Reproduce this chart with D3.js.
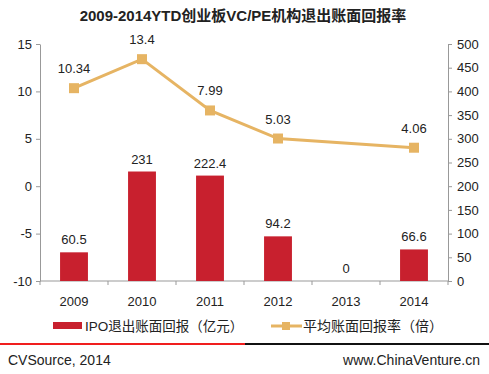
<!DOCTYPE html>
<html>
<head>
<meta charset="utf-8">
<script src="https://cdn.jsdelivr.net/npm/d3@7"></script>
<style>
  body { margin: 0; background: #fff; }
  svg text { font-family: "Liberation Sans", Arial, "Noto Sans CJK SC", sans-serif; fill: #222; }
</style>
</head>
<body>
<div class="graph"></div>
<script>
const years = ['2009', '2010', '2011', '2012', '2013', '2014'];
const ipoReturn = [60.5, 231, 222.4, 94.2, 0, 66.6];          // 亿元, right axis
const avgRate = [10.34, 13.4, 7.99, 5.03, null, 4.06];       // 倍, left axis
const leftTicks = [-10, -5, 0, 5, 10, 15];
const rightTicks = [0, 50, 100, 150, 200, 250, 300, 350, 400, 450, 500];

const width = 489;
const height = 374;
const barColor = '#c8202e';
const lineColor = '#e6b463';

const svg = d3.select('.graph').append('svg')
  .attr('width', width)
  .attr('height', height);

const plotLeft = 40, plotRight = 448, plotTop = 44, plotBottom = 281;

const x = d3.scaleBand().domain(years).range([plotLeft, plotRight]).paddingInner(0).paddingOuter(0);
const yL = d3.scaleLinear().domain([-10, 15]).range([plotBottom, plotTop]);
const yR = d3.scaleLinear().domain([0, 500]).range([plotBottom, plotTop]);

// title
svg.append('text')
  .attr('x', 243).attr('y', 21)
  .attr('text-anchor', 'middle')
  .style('font-size', '15px')
  .style('font-weight', 'bold')
  .text('2009-2014YTD创业板VC/PE机构退出账面回报率');

// axes
const axisStyle = g => {
  g.select('.domain').attr('stroke', '#999');
  g.selectAll('.tick line').attr('stroke', '#999');
  g.selectAll('.tick text').style('font-size', '13px').attr('fill', '#222');
};

svg.append('g')
  .attr('transform', `translate(${plotLeft},0)`)
  .call(d3.axisLeft(yL).tickValues(leftTicks).tickFormat(d => String(d))
    .tickSize(4).tickSizeOuter(0).tickPadding(4))
  .call(axisStyle);

svg.append('g')
  .attr('transform', `translate(${plotRight},0)`)
  .call(d3.axisRight(yR).tickValues(rightTicks).tickSize(4).tickSizeOuter(0).tickPadding(5))
  .call(axisStyle);

// x axis: line plus ticks on band boundaries
const xg = svg.append('g').attr('transform', `translate(0,${plotBottom})`);
xg.append('line').attr('x1', plotLeft).attr('x2', plotRight).attr('stroke', '#999');
xg.selectAll('.bt')
  .data(years.concat(['end']))
  .enter().append('line')
  .attr('x1', (d, i) => plotLeft + i * x.step())
  .attr('x2', (d, i) => plotLeft + i * x.step())
  .attr('y1', 0).attr('y2', 4)
  .attr('stroke', '#999');
xg.selectAll('.yl')
  .data(years)
  .enter().append('text')
  .attr('x', d => x(d) + x.bandwidth() / 2)
  .attr('y', 25)
  .attr('text-anchor', 'middle')
  .style('font-size', '13px')
  .text(d => d);

// bars
const barW = x.bandwidth() * 0.41;
svg.selectAll('.bar')
  .data(ipoReturn)
  .enter().append('rect')
  .attr('x', (d, i) => x(years[i]) + (x.bandwidth() - barW) / 2)
  .attr('y', d => yR(d))
  .attr('width', barW)
  .attr('height', d => plotBottom - yR(d))
  .attr('fill', barColor);

svg.selectAll('.barlabel')
  .data(ipoReturn)
  .enter().append('text')
  .attr('x', (d, i) => x(years[i]) + x.bandwidth() / 2)
  .attr('y', d => yR(d) - 8)
  .attr('text-anchor', 'middle')
  .style('font-size', '13px')
  .text(d => d);

// line (gap at 2013 spanned)
const pts = avgRate.map((v, i) => ({ year: years[i], v })).filter(d => d.v !== null);
const line = d3.line()
  .x(d => x(d.year) + x.bandwidth() / 2)
  .y(d => yL(d.v));

svg.append('path')
  .datum(pts)
  .attr('d', line)
  .attr('fill', 'none')
  .attr('stroke', lineColor)
  .attr('stroke-width', 3);

svg.selectAll('.marker')
  .data(pts)
  .enter().append('rect')
  .attr('x', d => x(d.year) + x.bandwidth() / 2 - 5)
  .attr('y', d => yL(d.v) - 5)
  .attr('width', 10).attr('height', 10)
  .attr('fill', lineColor);

svg.selectAll('.linelabel')
  .data(pts)
  .enter().append('text')
  .attr('x', d => x(d.year) + x.bandwidth() / 2)
  .attr('y', d => yL(d.v) - 15)
  .attr('text-anchor', 'middle')
  .style('font-size', '13px')
  .text(d => d.v);

// legend
const lg = svg.append('g').attr('transform', 'translate(0,326)');
lg.append('rect').attr('x', 53).attr('y', -4).attr('width', 29).attr('height', 7).attr('fill', barColor);
lg.append('text').attr('x', 85).attr('y', 5).style('font-size', '13.5px').text('IPO退出账面回报（亿元）');
lg.append('line').attr('x1', 271).attr('x2', 302).attr('y1', 0).attr('y2', 0)
  .attr('stroke', lineColor).attr('stroke-width', 3);
lg.append('rect').attr('x', 282).attr('y', -4).attr('width', 8).attr('height', 8).attr('fill', lineColor);
lg.append('text').attr('x', 303).attr('y', 5).style('font-size', '14px').text('平均账面回报率（倍）');

// footer
svg.append('line').attr('x1', 0).attr('x2', 245).attr('y1', 344).attr('y2', 344)
  .attr('stroke', '#f01e1e').attr('stroke-width', 2);
svg.append('line').attr('x1', 245).attr('x2', width).attr('y1', 344).attr('y2', 344)
  .attr('stroke', '#111').attr('stroke-width', 2);
svg.append('text').attr('x', 8).attr('y', 365).style('font-size', '14px').text('CVSource, 2014');
svg.append('text').attr('x', 480).attr('y', 365).attr('text-anchor', 'end')
  .style('font-size', '14px').text('www.ChinaVenture.cn');
</script>
</body>
</html>
